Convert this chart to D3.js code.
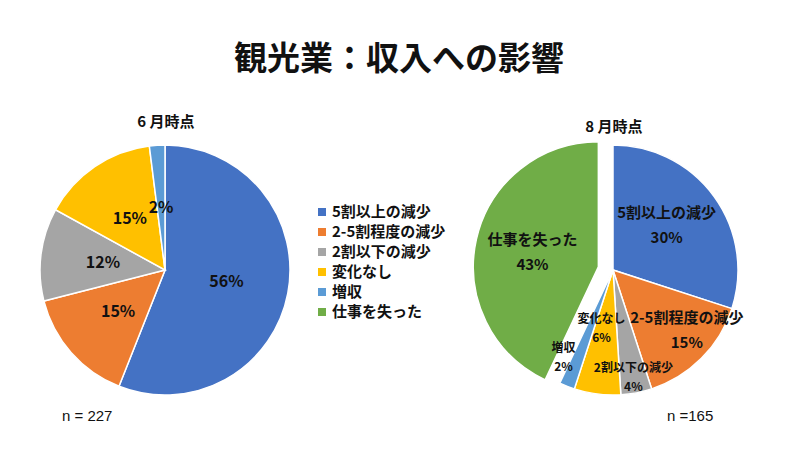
<!DOCTYPE html>
<html>
<head>
<meta charset="utf-8">
<script src="https://cdn.jsdelivr.net/npm/d3@7"></script>
<style>
  body { margin: 0; background: #fff; }
  text { font-family: "Noto Sans CJK JP", "Noto Sans", sans-serif; fill: #111; }
</style>
</head>
<body>
<div id="chart"></div>
<script>
// chart data
var categories = ["5割以上の減少", "2-5割程度の減少", "2割以下の減少", "変化なし", "増収", "仕事を失った"];
var colors = ["#4472C4", "#ED7D31", "#A5A5A5", "#FFC000", "#5B9BD5", "#70AD47"];
var juneValues = [56, 15, 12, 15, 2, 0];
var augValues = [30, 15, 4, 6, 2, 43];
var juneN = "n = 227";
var augN = "n =165";

var svgWidth = 800;
var svgHeight = 450;

var svg = d3.select("#chart")
  .append("svg")
  .attr("width", svgWidth)
  .attr("height", svgHeight);

// title
svg.append("text")
  .attr("x", 399)
  .attr("y", 70)
  .attr("text-anchor", "middle")
  .style("font-size", "33px")
  .style("font-weight", "bold")
  .text("観光業：収入への影響");

var radius = 125;
var pie = d3.pie().sort(null).value(d => d.value);
var arc = d3.arc().innerRadius(0).outerRadius(radius);

function toData(values) {
  return values.map((v, i) => ({ name: categories[i], value: v, color: colors[i] }));
}

// ---- June pie ----
var june = svg.append("g").attr("transform", "translate(165,270)");
var juneArcs = pie(toData(juneValues)).filter(d => d.data.value > 0);

june.selectAll("path")
  .data(juneArcs)
  .enter()
  .append("path")
  .attr("d", arc)
  .attr("fill", d => d.data.color)
  .attr("stroke", "#fff")
  .attr("stroke-width", 1.5);

june.selectAll("text.pct")
  .data(juneArcs)
  .enter()
  .append("text")
  .attr("class", "pct")
  .attr("transform", d => `translate(${arc.centroid(d)})`)
  .attr("text-anchor", "middle")
  .attr("dy", "0.36em")
  .style("font-size", "16px")
  .style("font-weight", "bold")
  .text(d => d.data.value + "%");

svg.append("text")
  .attr("x", 166).attr("y", 127)
  .attr("text-anchor", "middle")
  .style("font-size", "15px").style("font-weight", "bold")
  .text("6 月時点");

svg.append("text")
  .attr("x", 62).attr("y", 421)
  .style("font-family", "'Liberation Sans Narrow', 'Liberation Sans', sans-serif")
  .style("font-size", "15px")
  .text(juneN);

// ---- legend ----
var legend = svg.append("g").attr("transform", "translate(318,212)");
var rows = legend.selectAll("g")
  .data(categories)
  .enter()
  .append("g")
  .attr("transform", (d, i) => `translate(0, ${i * 20})`);

rows.append("rect")
  .attr("x", 0).attr("y", -4)
  .attr("width", 8).attr("height", 8)
  .attr("fill", (d, i) => colors[i]);

rows.append("text")
  .attr("x", 14)
  .attr("dy", "0.36em")
  .style("font-size", "15px")
  .style("font-weight", "bold")
  .text(d => d);

// ---- August pie (lost-job slice pulled out) ----
var aug = svg.append("g").attr("transform", "translate(613,270)");
var augArcs = pie(toData(augValues));
var explode = 15;
// label placement: share of the radius, and turn (degrees) away from slice middle
var labelPos = [0.56, 0.76, 0.87, 0.47, 0.8, 0.54];
var labelTurn = [-4, -6, 0, 4, 8, 0];
var smallLabel = [false, false, true, true, true, false];

function shift(d) {
  if (d.index !== 5) return [0, 0];
  var a = (d.startAngle + d.endAngle) / 2;
  return [Math.sin(a) * explode, -Math.cos(a) * explode];
}

aug.selectAll("path")
  .data(augArcs)
  .enter()
  .append("path")
  .attr("d", arc)
  .attr("transform", d => `translate(${shift(d)})`)
  .attr("fill", d => d.data.color)
  .attr("stroke", "#fff")
  .attr("stroke-width", 1.5);

var augLabels = aug.selectAll("g.lbl")
  .data(augArcs)
  .enter()
  .append("g")
  .attr("class", "lbl")
  .attr("transform", d => {
    var r = radius * labelPos[d.index];
    var a = (d.startAngle + d.endAngle) / 2 + labelTurn[d.index] * Math.PI / 180;
    var s = shift(d);
    return `translate(${Math.sin(a) * r + s[0]}, ${-Math.cos(a) * r + s[1]})`;
  });

augLabels.append("text")
  .attr("text-anchor", "middle")
  .attr("y", d => smallLabel[d.index] ? -9 : -12)
  .attr("dy", "0.36em")
  .style("font-size", d => smallLabel[d.index] ? "12px" : "15px")
  .style("font-weight", "bold")
  .text(d => d.data.name);

augLabels.append("text")
  .attr("text-anchor", "middle")
  .attr("y", d => smallLabel[d.index] ? 10 : 13)
  .attr("dy", "0.36em")
  .style("font-size", d => smallLabel[d.index] ? "12px" : "15px")
  .style("font-weight", "bold")
  .text(d => d.data.value + "%");

svg.append("text")
  .attr("x", 614).attr("y", 132)
  .attr("text-anchor", "middle")
  .style("font-size", "15px").style("font-weight", "bold")
  .text("8 月時点");

svg.append("text")
  .attr("x", 667).attr("y", 421)
  .style("font-family", "'Liberation Sans Narrow', 'Liberation Sans', sans-serif")
  .style("font-size", "15px")
  .text(augN);
</script>
</body>
</html>
